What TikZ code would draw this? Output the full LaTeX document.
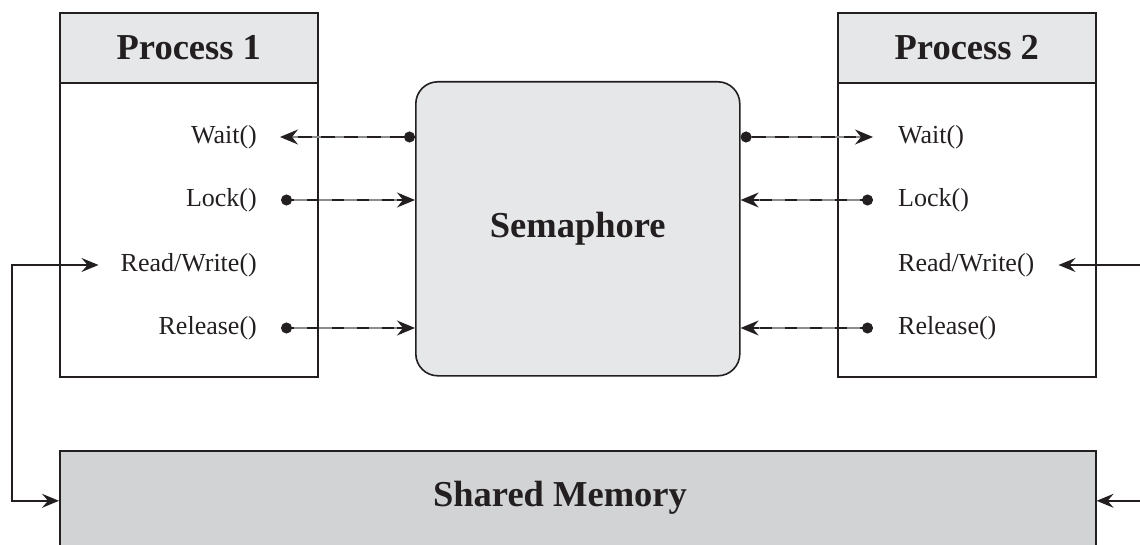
\documentclass[tikz,border=0pt]{standalone}
\usepackage{fontspec}
\setmainfont{Liberation Serif}
\usetikzlibrary{arrows.meta}
\definecolor{ink}{HTML}{231F20}
\definecolor{hdr}{HTML}{E6E7E8}
\definecolor{mem}{HTML}{D1D3D4}
\definecolor{dgray}{HTML}{8C8C8C}
\begin{document}
\begin{tikzpicture}[x=1pt,y=-1pt,
  box/.style={draw=ink, line width=1.6pt, inner sep=0pt, anchor=north west},
  title/.style={font=\fontsize{36.5}{40}\selectfont\bfseries, text=ink},
  lbl/.style={font=\fontsize{26}{30}\selectfont, text=ink, inner sep=0pt},
  dtips/.style={{Circle[length=11pt,color=ink]}-{Stealth[length=18pt,width=15pt,inset=6pt,color=ink]}},
  wline/.style={dtips, draw=dgray, line width=1.4pt,
    postaction={draw=ink, line width=2.8pt, dash pattern=on 14pt off 9pt, -, shorten <=11pt, shorten >=17pt}},
  lline/.style={dtips, draw=ink, line width=1.3pt,
    postaction={draw=dgray, line width=2.8pt, dash pattern=on 13pt off 12pt, -, shorten <=13pt, shorten >=18pt}},
  arr/.style={draw=ink, line width=1.5pt, {Stealth[length=17pt,width=14pt,inset=6pt]}-{Stealth[length=17pt,width=14pt,inset=6pt]}}
]
\useasboundingbox (0,0) rectangle (1140,545);
\clip (0,0) rectangle (1140,545);

% Process 1
\node[box, fill=hdr, minimum width=258pt, minimum height=70pt, title] (h1) at (59,12) {Process 1};
\node[box, minimum width=258pt, minimum height=294pt] (b1) at (59,82) {};
% Process 2
\node[box, fill=hdr, minimum width=258pt, minimum height=70pt, title] (h2) at (837,12) {Process 2};
\node[box, minimum width=258pt, minimum height=294pt] (b2) at (837,82) {};
% Semaphore
\node[box, fill=hdr, rounded corners=22pt, minimum width=324pt, minimum height=294pt, title] (sem) at (415,81) {Semaphore};
% Shared memory
\node[box, fill=mem, minimum width=1036pt, minimum height=100pt] (sm) at (59,450) {};
\node[title] (smt) at (560,498) {Shared Memory};

% labels left
\node[lbl, anchor=east] (w1) at (257,137) {Wait()};
\node[lbl, anchor=east] (l1) at (257,200) {Lock()};
\node[lbl, anchor=east] (rw1) at (257,265) {Read/Write()};
\node[lbl, anchor=east] (r1) at (257,328) {Release()};
% labels right
\node[lbl, anchor=west] (w2) at (898,137) {Wait()};
\node[lbl, anchor=west] (l2) at (898,200) {Lock()};
\node[lbl, anchor=west] (rw2) at (898,265) {Read/Write()};
\node[lbl, anchor=west] (r2) at (898,328) {Release()};

% dashed connectors
\draw[wline] (sem.west |- w1.east) -- ([xshift=23pt]w1.east);
\draw[lline] ([xshift=24pt]l1.east) -- (sem.west |- l1.east);
\draw[lline] ([xshift=24pt]r1.east) -- (sem.west |- r1.east);
\draw[wline] (sem.east |- w2.west) -- ([xshift=-25pt]w2.west);
\draw[lline] ([xshift=-25pt]l2.west) -- (sem.east |- l2.west);
\draw[lline] ([xshift=-25pt]r2.west) -- (sem.east |- r2.west);

% memory connectors
\coordinate (lc) at (12,0);
\coordinate (rc) at (1150,0);
\draw[arr] ([xshift=-22pt]rw1.west) -- (rw1.west -| lc) |- (sm.west);
\draw[arr] ([xshift=24pt]rw2.east) -- (rw2.east -| rc) |- (sm.east);
\end{tikzpicture}
\end{document}
